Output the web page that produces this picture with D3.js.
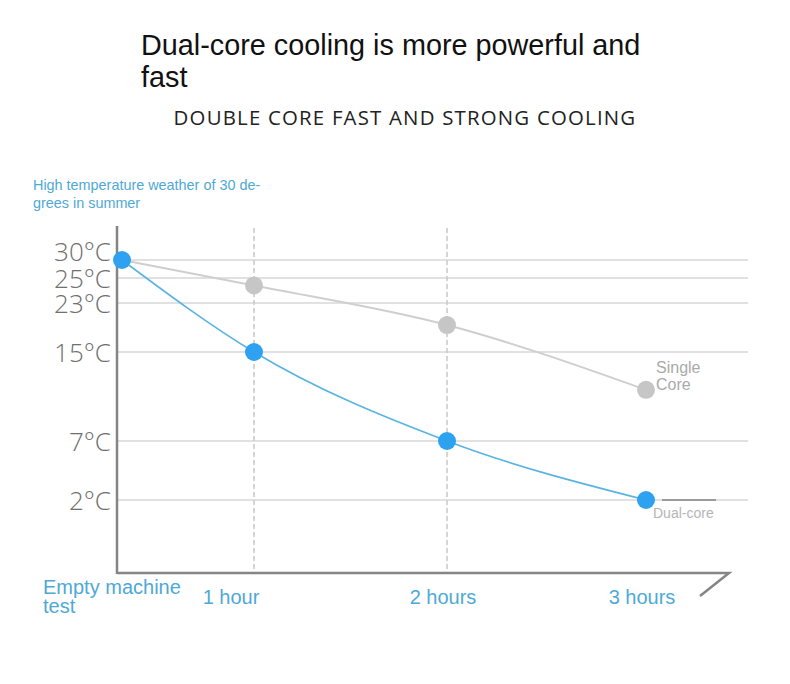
<!DOCTYPE html>
<html>
<head>
<meta charset="utf-8">
<script src="https://cdn.jsdelivr.net/npm/d3@7"></script>
<style>
  body { margin: 0; background: #fff; }
  svg { display: block; }
</style>
</head>
<body>
<div id="chart"></div>
<script>
// chart values
const hours = [0, 1, 2, 3];
const hourLabels = ["", "1 hour", "2 hours", "3 hours"];
const dualCore = [30, 15, 7, 2];
const singleCore = [30, 24.4, 19.4, 11.6];
const tempTicks = [30, 25, 23, 15, 7, 2];

const W = 790, H = 684;
const axisX = 117, axisBottom = 573, axisTop = 226, gridRight = 748;

const svg = d3.select("#chart").append("svg")
    .attr("width", W)
    .attr("height", H);

// the picture uses an uneven temperature axis, so the scale is piecewise
const y = d3.scaleLinear()
    .domain([2, 7, 15, 23, 25, 30])
    .range([500, 441, 352, 303, 278, 260]);

const x = d3.scaleLinear()
    .domain([0, 1, 2, 3])
    .range([122, 254, 447, 646]);

// titles
svg.append("text")
    .attr("x", 141).attr("y", 55)
    .style("font-family", "Liberation Sans, Arial, sans-serif")
    .style("font-size", "28.8px")
    .attr("fill", "#111")
    .text("Dual-core cooling is more powerful and");
svg.append("text")
    .attr("x", 141).attr("y", 87)
    .style("font-family", "Liberation Sans, Arial, sans-serif")
    .style("font-size", "28.8px")
    .attr("fill", "#111")
    .text("fast");
svg.append("text")
    .attr("x", 405).attr("y", 125)
    .attr("text-anchor", "middle")
    .style("font-family", "Open Sans, DejaVu Sans, sans-serif")
    .style("font-size", "20.4px")
    .style("letter-spacing", "1.2px")
    .attr("fill", "#222")
    .text("DOUBLE CORE FAST AND STRONG COOLING");

// note above the y axis
const note = svg.append("text")
    .style("font-family", "Liberation Sans, Arial, sans-serif")
    .style("font-size", "14.4px")
    .attr("fill", "#4ea9d6");
note.append("tspan").attr("x", 33).attr("y", 190).text("High temperature weather of 30 de-");
note.append("tspan").attr("x", 33).attr("y", 208).text("grees in summer");

// horizontal grid lines
svg.append("g")
    .selectAll("line")
    .data(tempTicks)
    .enter()
    .append("line")
    .attr("x1", axisX)
    .attr("x2", gridRight)
    .attr("y1", d => y(d))
    .attr("y2", d => y(d))
    .attr("stroke", "#c4c4c4")
    .attr("stroke-width", 1.2);

// dashed hour lines
svg.append("g")
    .selectAll("line")
    .data(hours.slice(1, 3))
    .enter()
    .append("line")
    .attr("x1", d => x(d))
    .attr("x2", d => x(d))
    .attr("y1", 228)
    .attr("y2", axisBottom)
    .attr("stroke", "#c8c8c8")
    .attr("stroke-width", 1.5)
    .attr("stroke-dasharray", "5 3");

// y axis with temperature labels
const yAxis = svg.append("g")
    .attr("transform", "translate(" + axisX + ",0)")
    .call(d3.axisLeft(y).tickValues(tempTicks).tickSize(0).tickPadding(6).tickFormat(d => d + "°C"));
yAxis.select(".domain").remove();
yAxis.selectAll("text")
    .style("font-family", "Open Sans, Lato, sans-serif")
    .style("font-weight", "300")
    .style("font-size", "26px")
    .attr("fill", "#6f6f6f")
    .attr("dy", d => d === 30 ? "0.0em" : "0.36em");

// axis lines
svg.append("line")
    .attr("x1", axisX).attr("x2", axisX)
    .attr("y1", axisTop).attr("y2", axisBottom + 1)
    .attr("stroke", "#858585").attr("stroke-width", 2.5);
svg.append("path")
    .attr("d", "M" + axisX + "," + axisBottom + "H729L700,596")
    .attr("fill", "none")
    .attr("stroke", "#858585").attr("stroke-width", 2.5);

// x labels
svg.append("g")
    .selectAll("text")
    .data(hours.slice(1))
    .enter()
    .append("text")
    .attr("x", (d, i) => x(d) + (i === 0 ? -23 : -4))
    .attr("y", 604)
    .attr("text-anchor", "middle")
    .style("font-family", "Liberation Sans, Arial, sans-serif")
    .style("font-size", "20px")
    .attr("fill", "#4ea9d6")
    .text(d => hourLabels[d]);

const start = svg.append("text")
    .style("font-family", "Liberation Sans, Arial, sans-serif")
    .style("font-size", "20px")
    .attr("fill", "#4ea9d6");
start.append("tspan").attr("x", 43).attr("y", 594).text("Empty machine");
start.append("tspan").attr("x", 43).attr("y", 613).text("test");

// lines
const line = d3.line()
    .x((d, i) => x(hours[i]))
    .y(d => y(d))
    .curve(d3.curveMonotoneX);

svg.append("path")
    .attr("d", line(singleCore))
    .attr("fill", "none")
    .attr("stroke", "#cfcfcf")
    .attr("stroke-width", 2);

svg.append("path")
    .attr("d", line(dualCore))
    .attr("fill", "none")
    .attr("stroke", "#5ab4e2")
    .attr("stroke-width", 1.6);

svg.append("g")
    .selectAll("circle")
    .data(singleCore.slice(1))
    .enter()
    .append("circle")
    .attr("cx", (d, i) => x(hours[i + 1]))
    .attr("cy", d => y(d))
    .attr("r", 9)
    .attr("fill", "#c6c6c6");

svg.append("g")
    .selectAll("circle")
    .data(dualCore)
    .enter()
    .append("circle")
    .attr("cx", (d, i) => x(hours[i]))
    .attr("cy", d => y(d))
    .attr("r", 9)
    .attr("fill", "#2ea2f0");

// series labels
const single = svg.append("text")
    .style("font-family", "Liberation Sans, Arial, sans-serif")
    .style("font-size", "16px")
    .attr("fill", "#aaa");
single.append("tspan").attr("x", 656).attr("y", 373).text("Single");
single.append("tspan").attr("x", 656).attr("y", 390).text("Core");

svg.append("line")
    .attr("x1", 662).attr("x2", 716)
    .attr("y1", 500).attr("y2", 500)
    .attr("stroke", "#8a8a8a").attr("stroke-width", 2)
    .attr("opacity", 0.8);

svg.append("text")
    .attr("x", 653).attr("y", 518)
    .style("font-family", "Liberation Sans, Arial, sans-serif")
    .style("font-size", "14px")
    .attr("fill", "#b5b5b5")
    .text("Dual-core");
</script>
</body>
</html>
